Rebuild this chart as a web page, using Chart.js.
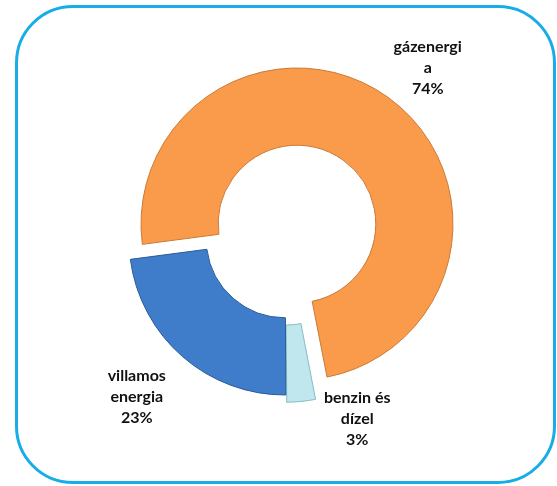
<!DOCTYPE html>
<html>
<head>
<meta charset="utf-8">
<script src="https://cdn.jsdelivr.net/npm/chart.js@4.4.0/dist/chart.umd.min.js"></script>
<style>
  html, body { margin: 0; padding: 0; background: #fff; }
  #wrap { position: relative; width: 557px; height: 486px; overflow: hidden; }
  #frame {
    position: absolute; left: 15px; top: 5px; width: 535px; height: 473px;
    border: 3px solid #19ade8; border-radius: 58px;
  }
  canvas { position: absolute; left: 0; top: 0; }
</style>
</head>
<body>
<div id="wrap">
  <div id="frame"></div>
  <canvas id="back" width="557" height="486"></canvas>
  <canvas id="front" width="557" height="486"></canvas>
</div>
<script>
const labels = [['gázenergi', 'a'], ['benzin és', 'dízel'], ['villamos', 'energia']]
const values = [74, 3, 23]
const colors = ['#f99b4a', '#c0e6ee', '#3f7dcb']
const lightColors = ['#fba457', '#d2eff4', '#4a8bd8']
const edgeColors = ['#c97a35', '#84bcc6', '#2a5a98']

// bevel-ish fill: lighter top, darker rims
const shade = (chart, i) => {
    const arc = chart.getDatasetMeta(0).data[i]
    if (!arc || !arc.outerRadius) return colors[i]
    const c = chart.ctx
    const g = c.createRadialGradient(arc.x, arc.y, arc.innerRadius, arc.x, arc.y, arc.outerRadius + 6)
    g.addColorStop(0, edgeColors[i])
    g.addColorStop(0.06, lightColors[i])
    g.addColorStop(0.5, colors[i])
    g.addColorStop(0.9, colors[i])
    g.addColorStop(1, edgeColors[i])
    return g
}

const labelPlugin = {
    id: 'sliceLabels',
    afterDatasetsDraw(chart, args, opts) {
        if (!opts.show) return
        const ctx = chart.ctx
        const meta = chart.getDatasetMeta(0)
        ctx.save()
        ctx.font = 'bold 16px Lato'
        ctx.fillStyle = '#111'
        ctx.textAlign = 'center'
        ctx.textBaseline = 'middle'
        meta.data.forEach((arc, i) => {
            const mid = (arc.startAngle + arc.endAngle) / 2
            const d = arc.outerRadius + opts.dist
            const x = arc.x + d * Math.cos(mid) + opts.nudge[i][0]
            const y = arc.y + d * Math.sin(mid) + opts.nudge[i][1]
            const lines = [].concat(labels[i], values[i] + '%')
            lines.forEach((t, k) => {
                ctx.fillText(t, x, y + (k - (lines.length - 1) / 2) * 21)
            })
        })
        ctx.restore()
    }
}

// the big orange slice is pulled out on its own, so it gets its own layer
const ring = (visible, offsets, padding, showLabels) => ({
    type: 'doughnut',
    data: {
        labels: labels.map(l => l.join(' ')),
        datasets: [{
            data: values,
            backgroundColor: ctx => visible[ctx.dataIndex] ? shade(ctx.chart, ctx.dataIndex) : 'rgba(0,0,0,0)',
            borderColor: ctx => visible[ctx.dataIndex] ? edgeColors[ctx.dataIndex] : 'rgba(0,0,0,0)',
            borderWidth: 1,
            offset: offsets
        }]
    },
    options: {
        responsive: false,
        animation: false,
        rotation: 262.5,
        radius: 156,
        cutout: '50.5%',
        layout: { padding: padding },
        plugins: {
            legend: { display: false },
            tooltip: { enabled: false },
            sliceLabels: { show: showLabels, dist: 68, nudge: [[0, 26], [38, -28], [-13, 4]] }
        }
    },
    plugins: [labelPlugin]
})

new Chart(document.getElementById('back'),
    ring([true, false, false], [0, 0, 0], { left: 37, right: 0, top: 0, bottom: 38 }, true))
new Chart(document.getElementById('front'),
    ring([false, true, true], [0, 16, 0], { left: 13, right: 0, top: 0, bottom: 8 }, false))
</script>
</body>
</html>
